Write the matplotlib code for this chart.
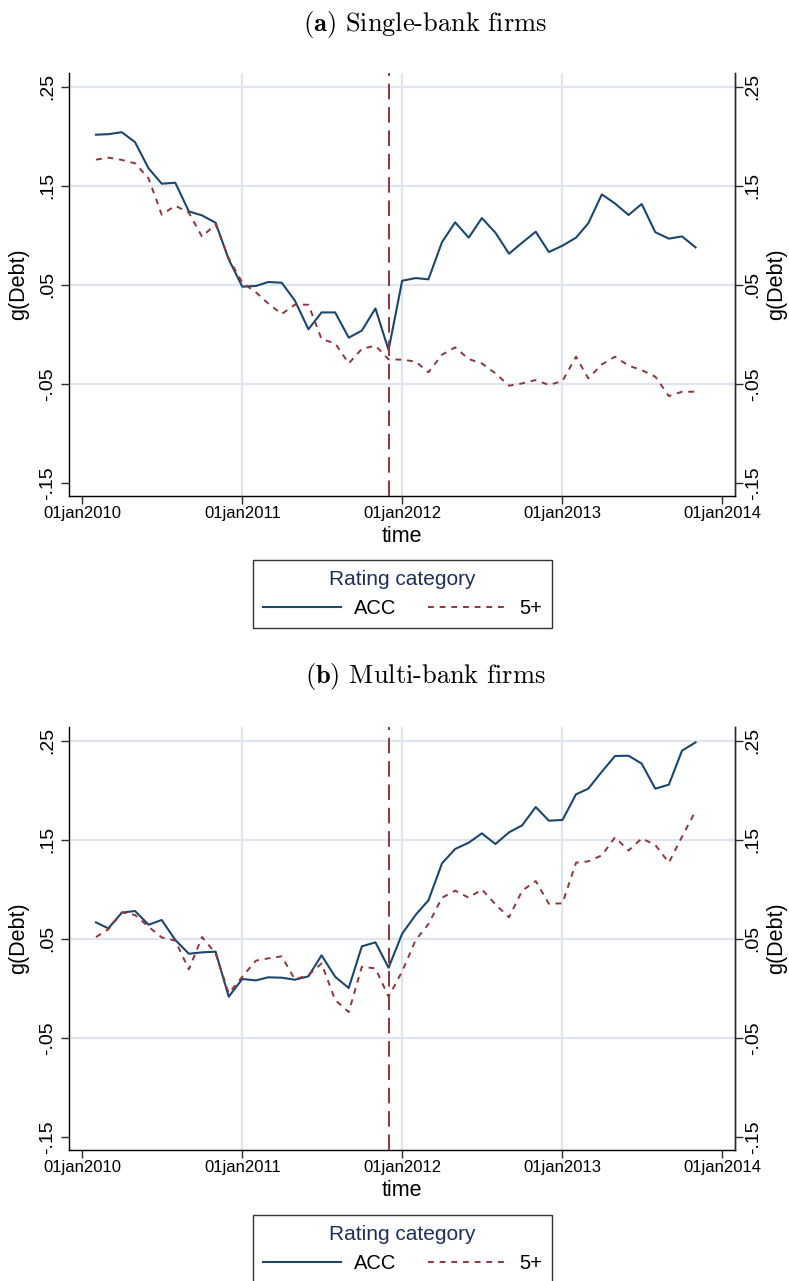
import numpy as np
import pandas as pd
import matplotlib
matplotlib.use("Agg")
import matplotlib.pyplot as plt

plt.rcParams['font.family'] = ['Liberation Sans', 'DejaVu Sans']

# monthly observations, Feb 2010 .. Nov 2013
months = pd.date_range('2010-02-01', periods=46, freq='MS')

single_acc = [0.2015, 0.202, 0.204, 0.194, 0.1675, 0.152, 0.153, 0.124, 0.120, 0.1126,
              0.0756, 0.048, 0.0487, 0.0527, 0.052, 0.034, 0.005, 0.022, 0.022, -0.0035,
              0.0037, 0.026, -0.016, 0.054, 0.0567, 0.0554, 0.093, 0.113, 0.0975, 0.1173,
              0.1025, 0.0813, 0.0924, 0.1035, 0.083, 0.0894, 0.0975, 0.112, 0.1412, 0.132,
              0.1204, 0.1315, 0.103, 0.0965, 0.0988, 0.0877]
single_5p = [0.1763, 0.1783, 0.176, 0.1726, 0.1574, 0.1207, 0.1298, 0.1227, 0.0985, 0.111,
             0.0766, 0.052, 0.0423, 0.0311, 0.0204, 0.0298, 0.0298, -0.0049, -0.0093, -0.0295,
             -0.0148, -0.0116, -0.0254, -0.0257, -0.0277, -0.0385, -0.0207, -0.0133, -0.0251, -0.0295,
             -0.0395, -0.052, -0.0497, -0.0463, -0.0513, -0.0473, -0.0227, -0.0446, -0.0305, -0.0227,
             -0.0318, -0.0362, -0.0429, -0.0625, -0.0581, -0.0581]
multi_acc = [0.0665, 0.0604, 0.0763, 0.078, 0.0641, 0.0689, 0.0487, 0.0348, 0.0362, 0.0369,
             -0.0086, 0.0093, 0.0079, 0.011, 0.0106, 0.0086, 0.012, 0.0332, 0.0116, 0.0002,
             0.0423, 0.0463, 0.0207, 0.055, 0.0742, 0.0887, 0.1261, 0.1406, 0.147, 0.1564,
             0.1456, 0.1574, 0.1645, 0.183, 0.1692, 0.1699, 0.1958, 0.2015, 0.2187, 0.2345,
             0.2348, 0.2268, 0.2015, 0.2056, 0.2399, 0.2483]
multi_5p = [0.0517, 0.0594, 0.0766, 0.0739, 0.0621, 0.0513, 0.048, 0.019, 0.0517, 0.0352,
            -0.0052, 0.0116, 0.0278, 0.0301, 0.0322, 0.0089, 0.0133, 0.025, -0.0119, -0.0241,
            0.0217, 0.02, -0.0086, 0.017, 0.0487, 0.0648, 0.0914, 0.0985, 0.0914, 0.0998,
            0.0847, 0.0716, 0.0985, 0.1082, 0.0853, 0.0857, 0.1268, 0.1281, 0.1342, 0.1524,
            0.139, 0.1513, 0.1446, 0.1268, 0.153, 0.179]

event_date = pd.Timestamp('2011-12-01')
year_ticks = pd.to_datetime(['2010-01-01', '2011-01-01', '2012-01-01', '2013-01-01', '2014-01-01'])
year_labels = ['01jan2010', '01jan2011', '01jan2012', '01jan2013', '01jan2014']
y_ticks = [-0.15, -0.05, 0.05, 0.15, 0.25]
y_labels = ['-.15', '-.05', '.05', '.15', '.25']

navy = '#1a476f'
maroon = '#90353b'
grid_col = '#e0e4ef'
axis_col = '#2a2a2a'

panels = [
    (r'$\mathbf{(a)}$ Single-bank firms', single_acc, single_5p),
    (r'$\mathbf{(b)}$ Multi-bank firms', multi_acc, multi_5p),
]

fig = plt.figure(figsize=(7.89, 12.81), dpi=100)
W, H = 789, 1281
ax_left, ax_right = 69.3, 735.0
layouts = [  # (axes top, axes bottom, title y, legend top) in pixels
    (73, 496, 24, 560),
    (727, 1150, 677, 1215),
]

xlo = pd.Timestamp('2009-12-02')
xhi = pd.Timestamp('2014-01-30')

for (title, acc, p5), (top, bot, ty, ltop) in zip(panels, layouts):
    ax = fig.add_axes([ax_left / W, 1 - bot / H, (ax_right - ax_left) / W, (bot - top) / H])
    ax.set_xlim(xlo, xhi)
    ax.set_ylim(-0.1634, 0.2638)

    for g in [-0.05, 0.05, 0.15, 0.25]:
        ax.axhline(g, color=grid_col, lw=1.6, zorder=0)
    for d in year_ticks[1:4]:
        ax.axvline(d, color=grid_col, lw=1.6, zorder=0)

    l1, = ax.plot(months, acc, color=navy, lw=1.5, label='ACC', zorder=3)
    l2, = ax.plot(months, p5, color=maroon, lw=1.4, ls=(0, (3, 3)), label='5+', zorder=3)
    ax.axvline(event_date, color=maroon, lw=1.4, ls=(0, (8, 4)), zorder=4)

    ax.set_xticks(year_ticks)
    ax.set_xticklabels(year_labels)
    ax.set_yticks(y_ticks)
    ax.set_yticklabels(y_labels, rotation=90, va='center')
    ax.set_xlabel('time', fontsize=15.5, labelpad=3.5)
    ax.set_ylabel('g(Debt)', fontsize=15.5, labelpad=7)
    ax.tick_params(axis='x', direction='out', length=6, width=1, labelsize=12, pad=1.5,
                   color=axis_col)
    ax.tick_params(axis='y', direction='out', length=6, width=1, labelsize=14, pad=3.5,
                   color=axis_col)
    ax.spines['top'].set_visible(False)
    for s in ['left', 'bottom', 'right']:
        ax.spines[s].set_linewidth(1.0)
        ax.spines[s].set_color(axis_col)

    ax2 = ax.twinx()
    ax2.set_ylim(ax.get_ylim())
    ax2.set_yticks(y_ticks)
    ax2.set_yticklabels(y_labels, rotation=90, va='center')
    ax2.set_ylabel('g(Debt)', fontsize=15.5, labelpad=3)
    ax2.tick_params(axis='y', direction='out', length=6, width=1, labelsize=14, pad=1,
                    color=axis_col)
    ax2.spines['top'].set_visible(False)
    ax2.spines['right'].set_linewidth(1.0)
    ax2.spines['right'].set_color(axis_col)

    fig.text(425 / W, 1 - ty / H, title, ha='center', va='center',
             fontsize=19, family='cmr10', math_fontfamily='cm')

    leg = fig.legend([l1, l2], ['ACC', '5+'], ncol=2, title='Rating category',
                     loc='upper center', bbox_to_anchor=(402.5 / W, 1 - ltop / H),
                     borderaxespad=0, fontsize=14.5, title_fontsize=15, frameon=True,
                     fancybox=False, edgecolor='black', handlelength=3.85,
                     handletextpad=0.65, columnspacing=1.6, borderpad=0.5,
                     labelspacing=0.5)
    leg.get_title().set_color('#1c2f5e')
    leg.get_frame().set_linewidth(1.0)

fig.savefig('out.png', dpi=100)
